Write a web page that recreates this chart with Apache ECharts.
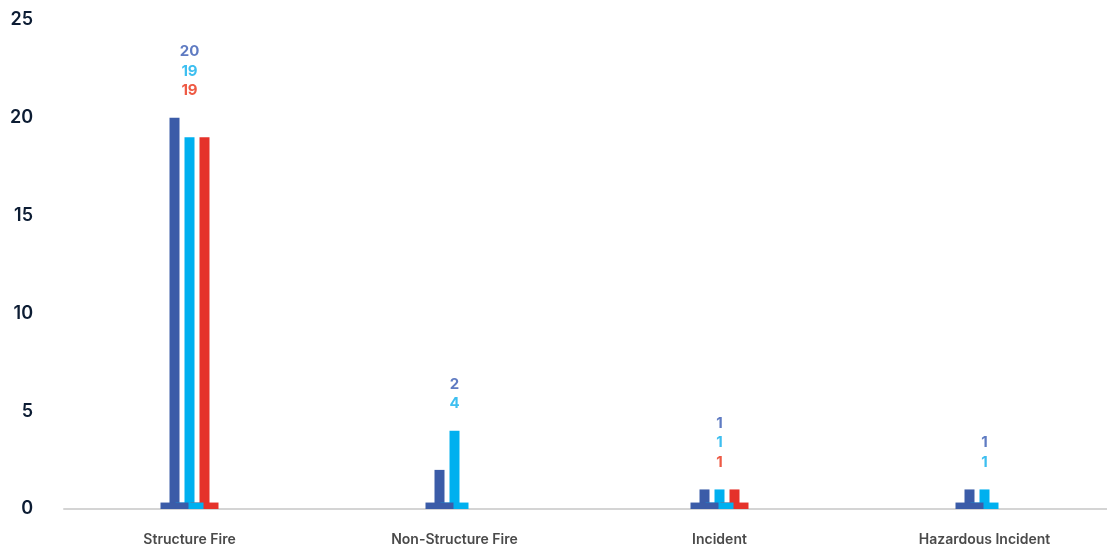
<!DOCTYPE html>
<html>
<head>
<meta charset="utf-8">
<script src="https://cdn.jsdelivr.net/npm/echarts@6/dist/echarts.min.js"></script>
<style>
  html, body { margin: 0; padding: 0; background: #ffffff; overflow: hidden; }
  /* canvas runs a little past the right edge so the last category keeps full width */
  #chart { width: 1117px; height: 552px; }
</style>
</head>
<body>
<div id="chart"></div>
<script>
// Incident counts by type, three reporting series
const categories = ['Structure Fire', 'Non-Structure Fire', 'Incident', 'Hazardous Incident'];
const seriesNames = ['Series A', 'Series B', 'Series C'];
const valuesA = [20, 2, 1, 1];
const valuesB = [19, 4, 1, 1];
const valuesC = [19, null, 1, null];
const yTicks = [0, 5, 10, 15, 20, 25];

const barColors = ['#3b5ca8', '#00b0ef', '#e5322a'];
const labelColors = ['#5f7bc2', '#3dbff0', '#ee5a44'];
const allValues = [valuesA, valuesB, valuesC];

// height of the flat foot drawn under every bar, in axis units
const FOOT = 0.33;

const FONT = 'Inter, "Noto Sans", sans-serif';

const chart = echarts.init(document.getElementById('chart'), null, { renderer: 'canvas' });

const barSeries = allValues.map((vals, s) => ({
  type: 'bar',
  name: seriesNames[s],
  xAxisIndex: 0,
  yAxisIndex: 0,
  barWidth: 10,
  barGap: '50%',
  z: 2,
  itemStyle: { color: barColors[s] },
  data: vals.map(v => (v == null ? '-' : v)),
  silent: true
}));

const footSeries = allValues.map((vals, s) => ({
  type: 'bar',
  name: seriesNames[s] + ' base',
  xAxisIndex: 1,
  yAxisIndex: 0,
  barWidth: 28,
  barGap: '-46.43%',
  z: 5 - s,
  itemStyle: { color: barColors[s] },
  data: vals.map(v => (v == null ? '-' : FOOT)),
  silent: true
}));

// value labels stacked above the tallest bar of each category
const labelSeries = {
  type: 'custom',
  xAxisIndex: 0,
  yAxisIndex: 0,
  z: 10,
  silent: true,
  data: categories.map((c, i) => [i, Math.max(...allValues.map(v => v[i] || 0))]),
  renderItem(params, api) {
    const i = api.value(0);
    const top = api.coord([i, api.value(1)]);
    const present = [];
    allValues.forEach((vals, s) => {
      if (vals[i] != null) present.push({ v: vals[i], s });
    });
    const n = present.length;
    return {
      type: 'group',
      children: present.map((p, k) => ({
        type: 'text',
        x: top[0],
        y: top[1] - 27 - (n - 1 - k) * 19.5,
        style: {
          text: String(p.v),
          fill: labelColors[p.s],
          font: '700 15px ' + FONT,
          align: 'center',
          verticalAlign: 'middle'
        }
      }))
    };
  }
};

const option = {
  backgroundColor: '#ffffff',
  animation: false,
  grid: [
    { left: 57, right: 0, top: 20, bottom: 43 },
    { left: 64, right: 10, top: 20, bottom: 43 }
  ],
  xAxis: [
    {
      type: 'category',
      gridIndex: 0,
      data: categories,
      axisLine: { show: false },
      axisTick: { show: false },
      axisLabel: {
        margin: 24,
        color: '#4a4a4a',
        fontSize: 14,
        fontWeight: 600,
        fontFamily: FONT
      }
    },
    {
      type: 'category',
      gridIndex: 0,
      data: categories,
      show: false
    },
    {
      type: 'category',
      gridIndex: 1,
      data: categories,
      axisLine: { show: true, lineStyle: { color: '#d4d4d4', width: 2 } },
      axisTick: { show: false },
      axisLabel: { show: false }
    }
  ],
  yAxis: [
    {
      type: 'value',
      gridIndex: 0,
      min: yTicks[0],
      max: yTicks[yTicks.length - 1],
      interval: yTicks[1] - yTicks[0],
      axisLine: { show: false },
      axisTick: { show: false },
      splitLine: { show: false },
      axisLabel: {
        margin: 24,
        color: '#0c1c33',
        fontSize: 18,
        fontWeight: 600,
        fontFamily: FONT
      }
    },
    {
      type: 'value',
      gridIndex: 1,
      min: 0,
      max: 25,
      show: false
    }
  ],
  series: [...barSeries, ...footSeries, labelSeries]
};

chart.setOption(option);
</script>
</body>
</html>
